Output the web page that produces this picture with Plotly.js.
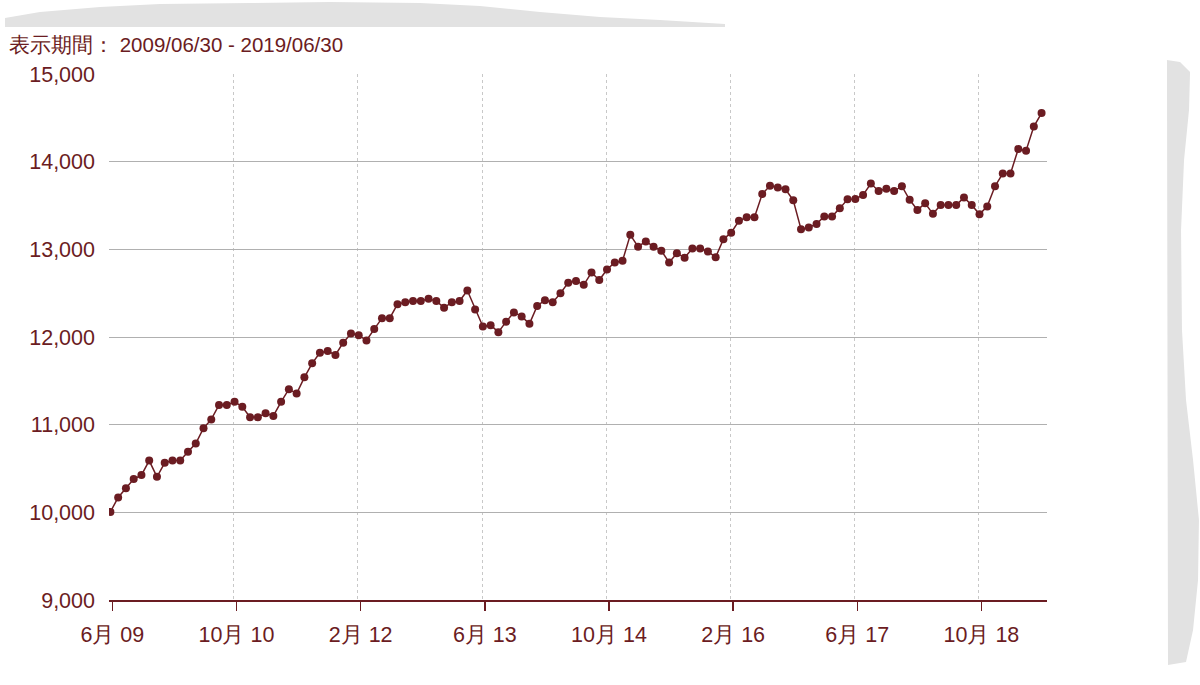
<!DOCTYPE html>
<html>
<head>
<meta charset="utf-8">
<script src="https://cdn.plot.ly/plotly-3.0.1.min.js"></script>
<style>html,body{margin:0;padding:0;background:#fff;}#chart{width:1200px;height:685px;}</style>
</head>
<body>
<div id="chart"></div>
<script>
// Monthly values, 2009/06 .. 2019/06
const values = [
  10005, 10170, 10275, 10380, 10425, 10590, 10405, 10565, 10590, 10590,
  10690, 10785, 10960, 11060, 11225, 11225, 11260, 11205, 11085, 11085,
  11130, 11100, 11260, 11405, 11355, 11540, 11700, 11820, 11840, 11795,
  11935, 12040, 12020, 11960, 12090, 12215, 12215, 12375, 12395, 12410,
  12410, 12435, 12410, 12335, 12395, 12410, 12530, 12315, 12120, 12135,
  12055, 12175, 12280, 12235, 12150, 12355, 12420, 12395, 12500, 12620,
  12640, 12595, 12735, 12650, 12770, 12850, 12870, 13165, 13030, 13090,
  13030, 12985, 12850, 12955, 12905, 13010, 13010, 12975, 12910, 13115,
  13190, 13325, 13365, 13365, 13630, 13725, 13705, 13685, 13560, 13230,
  13250, 13290, 13375, 13375, 13470, 13570, 13575, 13620, 13750, 13665,
  13690, 13665, 13720, 13565, 13450, 13525, 13405, 13505, 13505, 13505,
  13590, 13505, 13400, 13490, 13720, 13865, 13865, 14145, 14125, 14400,
  14555
];
const tickPositions = [0, 16, 32, 48, 64, 80, 96, 112];
const tickLabels = ["6月 09", "10月 10", "2月 12", "6月 13", "10月 14", "2月 16", "6月 17", "10月 18"];
const yTicks = [9000, 10000, 11000, 12000, 13000, 14000, 15000];
const titleText = "表示期間： 2009/06/30 - 2019/06/30";

const xs = values.map((v, i) => i);
const dark = "#6b1c22";
const font = "Liberation Sans, Arial, sans-serif";

// paper-coordinate helpers for decorative edges
const L = 109, R = 1047, T = 74, B = 600;
const px = x => ((x - L) / (R - L)).toFixed(4);
const py = y => ((B - y) / (B - T)).toFixed(4);
function pathFrom(pts) {
  return pts.map((p, i) => (i ? "L" : "M") + px(p[0]) + "," + py(p[1])).join(" ") + " Z";
}
const topBand = pathFrom([[5,27],[5,18],[40,12],[100,7],[160,4],[250,3],[330,2],[420,3],[480,6],[540,12],[600,17],[660,20],[725,24],[725,27]]);
const rightBand = pathFrom([[1167,60],[1180,62],[1190,72],[1189,110],[1184,160],[1181,230],[1182,330],[1186,400],[1193,460],[1199,520],[1198,580],[1193,630],[1186,662],[1168,665]]);

const trace = {
  x: xs, y: values, type: "scatter", mode: "lines+markers",
  line: {color: dark, width: 1.5},
  marker: {color: dark, size: 8},
  hoverinfo: "y"
};

const layout = {
  width: 1200, height: 685,
  margin: {l: L, r: 1200 - R, t: T, b: 685 - B},
  paper_bgcolor: "#fff", plot_bgcolor: "#fff",
  showlegend: false,
  font: {family: font, color: dark, size: 21},
  title: {text: titleText, xref: "container", yref: "container", x: 9/1200, xanchor: "left", y: 1 - 45/685, yanchor: "middle", font: {family: font, size: 20.5, color: dark}},
  xaxis: {
    range: [-0.18, 120.7],
    tickvals: tickPositions.map(v => v + 0.25), ticktext: tickLabels,
    showgrid: false,
    minor: {tickvals: tickPositions.map(v => v - 0.1), showgrid: true, gridcolor: "#c8c8c8", griddash: "dot", gridwidth: 1, ticks: ""},
    ticks: "outside", ticklen: 9, tickcolor: dark, tickwidth: 1.5,
    showline: true, linecolor: dark, linewidth: 2,
    zeroline: false, ticklabelstandoff: 5,
    tickfont: {family: font, size: 21.5, color: dark}
  },
  yaxis: {
    range: [9000, 15000], tickvals: yTicks, tickformat: ",d",
    showgrid: true, gridcolor: "#b0b0b0", gridwidth: 1,
    ticks: "", showline: false, zeroline: false, ticklabelstandoff: 13,
    tickfont: {family: font, size: 21.5, color: dark}
  },
  shapes: [
    {type: "path", xref: "paper", yref: "paper", path: topBand, fillcolor: "#e2e2e2", line: {width: 0}, layer: "below"},
    {type: "path", xref: "paper", yref: "paper", path: rightBand, fillcolor: "#e2e2e2", line: {width: 0}, layer: "below"}
  ]
};

Plotly.newPlot("chart", [trace], layout, {displayModeBar: false, staticPlot: true});
</script>
</body>
</html>
